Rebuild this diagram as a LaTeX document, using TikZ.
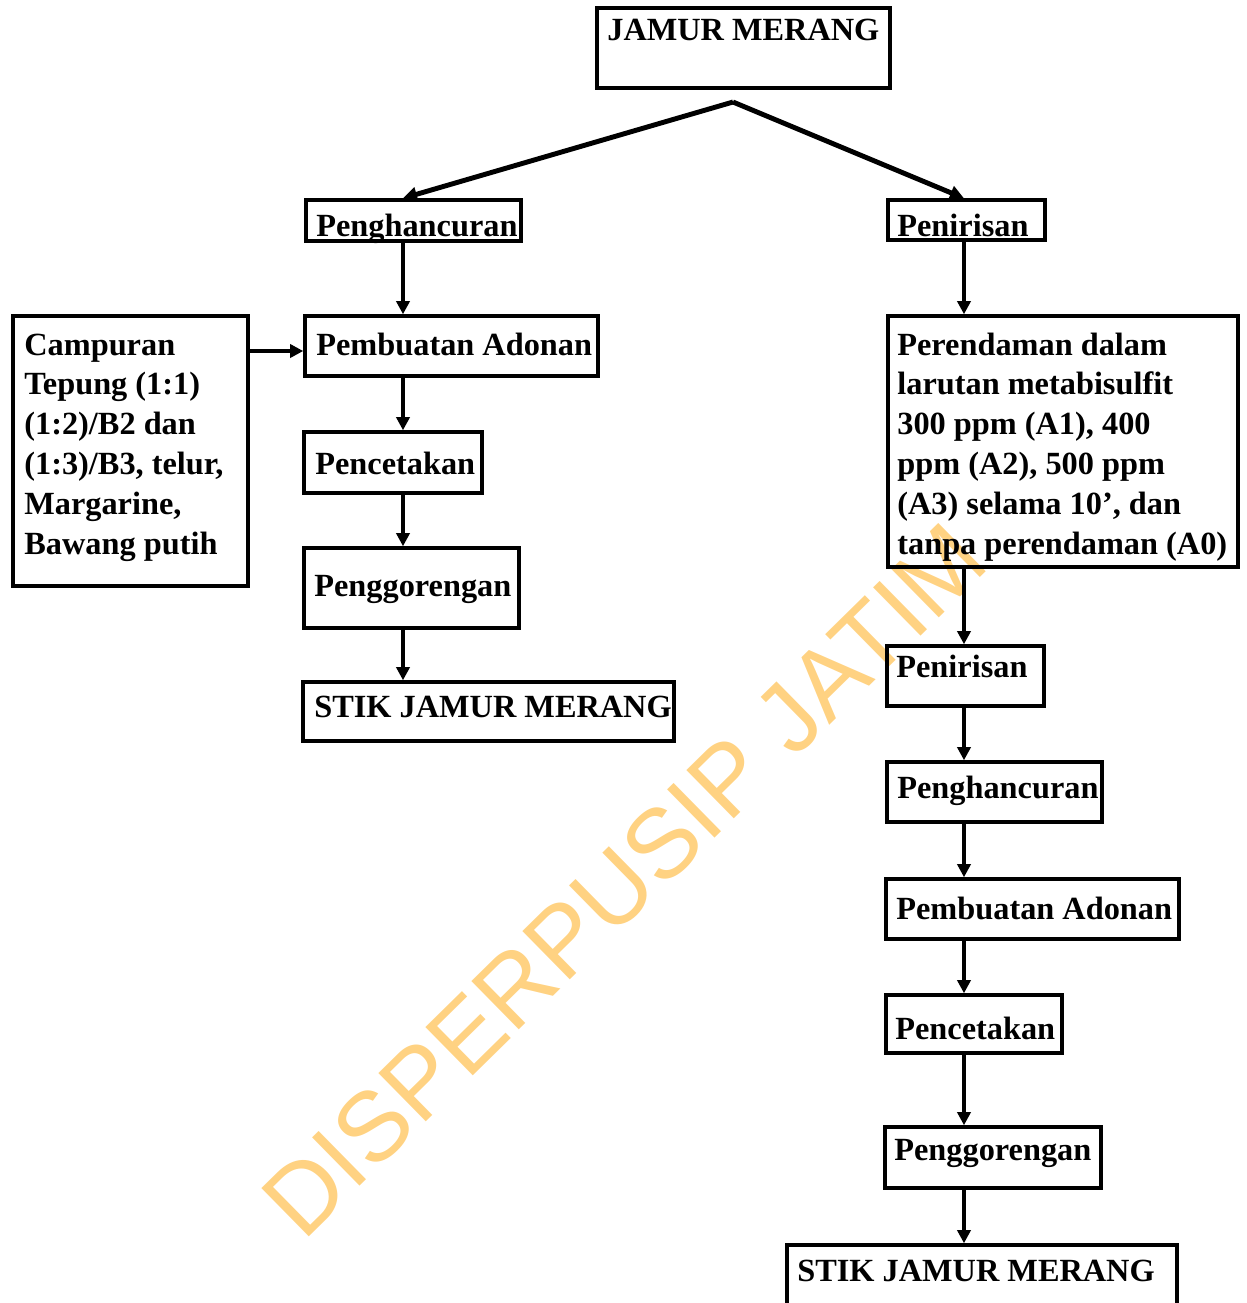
\documentclass[tikz,border=0pt]{standalone}
\usepackage{fontspec}
\setmainfont{Liberation Serif}
\newfontfamily\wmfont{Liberation Sans}
\usetikzlibrary{arrows.meta,fit,calc}
\definecolor{wm}{RGB}{255,210,130}
\newcommand{\ml}[1]{\begin{tabular}[t]{@{}l@{}}#1\end{tabular}}
\begin{document}
\begin{tikzpicture}[x=0.02cm,y=-0.02cm,
  box/.style={draw, line width=2pt, inner sep=0pt},
  txt/.style={anchor=base west, inner sep=0pt, font=\bfseries\fontsize{18.4}{22.7}\selectfont},
  arr/.style={line width=1.9pt, -{Triangle[length=7.5pt,width=7.5pt]}},
  diag/.style={line width=2.8pt, -{Triangle[length=8pt,width=8pt]}}]
\useasboundingbox (0,0) rectangle (1247,1303);
\clip (0,0) rectangle (1247,1303);
% watermark
\node[rotate=44.5, text=wm, inner sep=0pt, font=\wmfont\fontsize{56}{56}\selectfont] (wmk) at (624,880) {DISPERPUSIP JATIM};
% boxes
\node[box, fit={(597,8) (890,88)}] (jm) {};
\node[box, fit={(306,200) (521,241)}] (lph) {};
\node[box, fit={(305,316) (598,376)}] (lpa) {};
\node[box, fit={(304,432) (482,493)}] (lpc) {};
\node[box, fit={(304,548) (519,628)}] (lpg) {};
\node[box, fit={(303,682) (674,741)}] (lst) {};
\node[box, fit={(13,316) (248,586)}] (cmp) {};
\node[box, fit={(888,200) (1045,240)}] (rpn) {};
\node[box, fit={(888,316) (1238,567)}] (rpr) {};
\node[box, fit={(887,646) (1044,706)}] (rpn2) {};
\node[box, fit={(887,762) (1102,822)}] (rph) {};
\node[box, fit={(886,879) (1179,939)}] (rpa) {};
\node[box, fit={(886,995) (1062,1053)}] (rpc) {};
\node[box, fit={(885,1127) (1101,1188)}] (rpg) {};
\node[box, fit={(787,1245) (1177,1310)}] (rst) {};
% texts
\node[txt] (tjm) at (607,40) {JAMUR MERANG};
\node[txt] (tlph) at (316,236) {Penghancuran};
\node[txt] (tlpa) at (316,355) {Pembuatan Adonan};
\node[txt] (tlpc) at (315,474) {Pencetakan};
\node[txt] (tlpg) at (314,596) {Penggorengan};
\node[txt] (tlst) at (314,717) {STIK JAMUR MERANG};
\node[txt] (tcmp) at (24,355) {\ml{Campuran\\Tepung (1:1)\\(1:2)/B2 dan\\(1:3)/B3, telur,\\Margarine,\\Bawang putih}};
\node[txt] (trpn) at (897,236) {Penirisan};
\node[txt] (trpr) at (897,355) {\ml{Perendaman dalam\\larutan metabisulfit\\300 ppm (A1), 400\\ppm (A2), 500 ppm\\(A3) selama 10’, dan\\tanpa perendaman (A0)}};
\node[txt] (trpn2) at (896,677) {Penirisan};
\node[txt] (trph) at (897,798) {Penghancuran};
\node[txt] (trpa) at (896,919) {Pembuatan Adonan};
\node[txt] (trpc) at (895,1039) {Pencetakan};
\node[txt] (trpg) at (894,1160) {Penggorengan};
\node[txt] (trst) at (797,1281) {STIK JAMUR MERANG};
% connectors
\coordinate (lx) at (403,0);
\coordinate (rx) at (964,0);
\coordinate (cy) at (0,351);
\coordinate (apex) at (733,102);
\draw[diag] (apex) -- (lph.north -| lx);
\draw[diag] (apex) -- (rpn.north -| rx);
\draw[arr] (lph.south -| lx) -- (lpa.north -| lx);
\draw[arr] (lpa.south -| lx) -- (lpc.north -| lx);
\draw[arr] (lpc.south -| lx) -- (lpg.north -| lx);
\draw[arr] (lpg.south -| lx) -- (lst.north -| lx);
\draw[arr] (cmp.east |- cy) -- (lpa.west |- cy);
\draw[arr] (rpn.south -| rx) -- (rpr.north -| rx);
\draw[arr] (rpr.south -| rx) -- (rpn2.north -| rx);
\draw[arr] (rpn2.south -| rx) -- (rph.north -| rx);
\draw[arr] (rph.south -| rx) -- (rpa.north -| rx);
\draw[arr] (rpa.south -| rx) -- (rpc.north -| rx);
\draw[arr] (rpc.south -| rx) -- (rpg.north -| rx);
\draw[arr] (rpg.south -| rx) -- (rst.north -| rx);
\end{tikzpicture}
\end{document}
